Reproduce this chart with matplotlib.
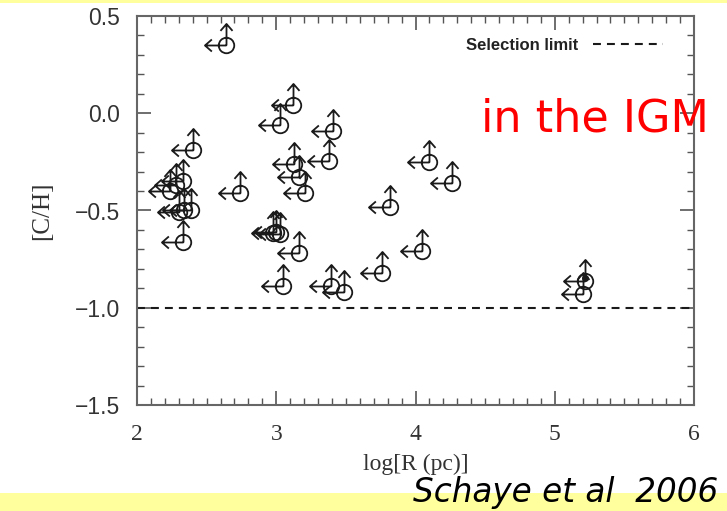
import matplotlib
matplotlib.use("Agg")
import matplotlib.pyplot as plt
from matplotlib.path import Path
from matplotlib.patches import Rectangle
from matplotlib.lines import Line2D

# ---- data ----
log_r = [2.64, 3.12, 3.03, 3.41, 2.40, 3.13, 3.38, 3.16, 3.21, 4.10,
         4.26, 3.82, 2.98, 3.00, 3.03, 3.16, 4.05, 3.76, 3.05, 3.39,
         3.49, 2.33, 2.28, 2.24, 2.30, 2.34, 2.39, 2.33, 2.74, 5.22, 5.20]
c_h = [0.35, 0.04, -0.06, -0.09, -0.19, -0.26, -0.245, -0.33, -0.41, -0.25,
       -0.36, -0.48, -0.615, -0.61, -0.62, -0.72, -0.71, -0.82, -0.89, -0.89,
       -0.92, -0.35, -0.37, -0.40, -0.51, -0.50, -0.50, -0.66, -0.41, -0.86, -0.93]
filled_r = [5.22]
filled_ch = [-0.845]
selection_limit = -1.0
xticks = [2, 3, 4, 5, 6]
yticks = [-1.5, -1.0, -0.5, 0.0, 0.5]

W, H = 727, 511
fig = plt.figure(figsize=(W / 100, H / 100), dpi=100)
fig.patch.set_facecolor("white")
yellow = "#ffff9e"
fig.patches.append(Rectangle((0, 0), 1, 18 / H, transform=fig.transFigure,
                             facecolor=yellow, edgecolor="none", zorder=0))
fig.patches.append(Rectangle((0, 1 - 3 / H), 1, 3 / H, transform=fig.transFigure,
                             facecolor=yellow, edgecolor="none", zorder=0))

left, right, top, bottom = 137, 694, 16, 405
ax = fig.add_axes([left / W, 1 - bottom / H, (right - left) / W, (bottom - top) / H])

# marker: circle + left arrow + up arrow (upper limit / lower-bound symbol)
circ = Path.circle(center=(0, 0), radius=0.36)
M, L = Path.MOVETO, Path.LINETO
larrow = Path([(0, 0), (-1, 0), (-0.68, 0.28), (-1, 0), (-0.68, -0.28)],
              [M, L, M, L, L])
uarrow = Path([(0, 0), (0, 1), (-0.28, 0.68), (0, 1), (0.28, 0.68)],
              [M, L, M, L, L])
sym = Path.make_compound_path(circ, larrow, uarrow)

ink = "#1a1a1a"
ax.plot(log_r, c_h, linestyle="none", marker=sym, markersize=31,
        markerfacecolor="none", markeredgecolor=ink, markeredgewidth=1.3)
ax.plot(filled_r, filled_ch, linestyle="none", marker="o", markersize=4,
        color=ink)

ax.axhline(selection_limit, color=ink, lw=1.5, linestyle=(0, (3.8, 2.9)))

ax.set_xlim(2, 6)
ax.set_ylim(-1.5, 0.5)
ax.set_xticks(xticks)
ax.set_yticks(yticks)
ax.set_xticks([2 + 0.1 * i for i in range(41)], minor=True)
ax.set_yticks([-1.5 + 0.1 * i for i in range(21)], minor=True)
ax.set_yticklabels([f"{v:.1f}".replace("-", "\u2212") for v in yticks],
                   fontsize=16.5, family="Liberation Sans", color="#333333")
ax.set_xticklabels([str(v) for v in xticks], fontsize=17,
                   family="Liberation Serif", color="#333333")
ax.tick_params(which="both", direction="in", top=True, right=True, color="#555555")
ax.tick_params(which="major", length=10, width=1.2)
ax.tick_params(which="minor", length=5, width=1.0)
ax.tick_params(axis="x", pad=14)
ax.tick_params(axis="y", pad=12)
for s in ax.spines.values():
    s.set_color("#666666")
    s.set_linewidth(1.5)

ax.set_xlabel("log[R (pc)]", fontsize=17, family="Liberation Serif", color="#333333",
              labelpad=6)
ax.set_ylabel("[C/H]", fontsize=18, family="Liberation Serif", color="#333333",
              labelpad=16)

h = Line2D([], [], color=ink, lw=1.5, linestyle=(0, (3.8, 2.9)))
leg = ax.legend([h], ["Selection limit"], loc="center right",
                bbox_to_anchor=((663 - left) / (right - left), 1 - (45 - top) / (bottom - top)),
                frameon=False, markerfirst=False, handlelength=4.2, handletextpad=0.9,
                borderpad=0, borderaxespad=0,
                prop={"family": "Liberation Sans", "weight": "bold", "size": 12})
for t in leg.get_texts():
    t.set_color("#222222")

fig.text(481 / W, 1 - 131 / H, "in the IGM", color="red", fontsize=32,
         family="DejaVu Sans", va="baseline", ha="left")
fig.text(718 / W, 1 - 502 / H, "Schaye et al  2006", color="black", fontsize=23.5,
         family="DejaVu Sans", style="italic", va="baseline", ha="right")

fig.savefig("out.png", dpi=100)
